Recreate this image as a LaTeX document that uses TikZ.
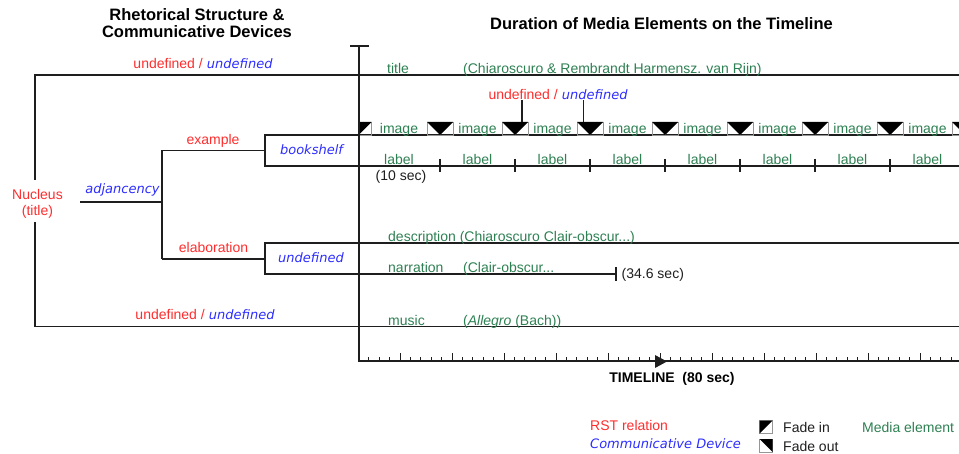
\documentclass[tikz,border=0pt]{standalone}
\usepackage{fontspec}
\setmainfont{Liberation Sans}
\newfontfamily\cdfont{DejaVu Sans}
\definecolor{rstred}{RGB}{255,45,45}
\definecolor{cdblue}{RGB}{45,45,255}
\definecolor{mediagreen}{RGB}{45,128,82}
\definecolor{ink}{RGB}{30,30,30}
\definecolor{fadegray}{RGB}{150,150,150}
\newcommand\cdtext[1]{{\cdfont\itshape\fontsize{13}{15}\selectfont\color{cdblue}#1}}
\newcommand\relpair{{\color{rstred}undefined\hspace{4pt}/\hspace{4pt}}\cdtext{undefined}}

\tikzset{
  pics/fadeout/.style={code={
    \draw[fadegray, line width=0.9pt] (0,0) rectangle (13,13);
    \fill[black] (0,0) -- (13,0) -- (13,13) -- cycle;}},
  pics/fadein/.style={code={
    \draw[fadegray, line width=0.9pt] (0,0) rectangle (13,13);
    \fill[black] (0,0) -- (13,0) -- (0,13) -- cycle;}},
}

\begin{document}
\begin{tikzpicture}[x=1pt,y=-1pt,
  line/.style={draw=ink, line width=1.1pt},
  axisline/.style={draw=ink, line width=2pt},
  tick/.style={draw=ink, line width=0.9pt},
  rst/.style={text=rstred, font=\fontsize{14}{16}\selectfont, inner sep=0pt},
  cd/.style={text=cdblue, font=\cdfont\itshape\fontsize{13}{15}\selectfont, inner sep=0pt},
  media/.style={text=mediagreen, font=\fontsize{14}{16}\selectfont, inner sep=0pt},
  note/.style={text=ink, font=\fontsize{14}{16}\selectfont, inner sep=0pt},
  heading/.style={text=black, font=\bfseries\fontsize{16.5}{18}\selectfont, inner sep=0pt, anchor=base},
]
\useasboundingbox (0,0) rectangle (959,454);
\clip (0,0) rectangle (959,454);

% headings
\node[heading] (rsthead1) at (197,21) {Rhetorical Structure \&};
\node[heading] (rsthead2) at (197,37.5) {Communicative Devices};
\node[heading] (durhead) at (661.5,29.5) {Duration of Media Elements on the Timeline};

% rhetorical tree
\node[rst, align=center] (nucleus) at (37.5,204) {Nucleus\\(title)};
\coordinate (nucTop) at (35,75);
\coordinate (nucBot) at (35,326.5);
\draw[line] (35,180) -- (nucTop) -- (959,75);
\draw[line] (35,222) -- (nucBot) -- (959,326.5);
\node[rst, anchor=base] (relTop) at (203,69) {\relpair};
\node[rst, anchor=base] (relBot) at (205,320) {\relpair};

\node[cd, anchor=base] (adj) at (122.5,194) {adjancency};
\coordinate (adjL) at (80,202);
\coordinate (adjR) at (162,202);
\draw[line] (adjL) -- (adjR);
\coordinate (brTop) at (162,150.5);
\coordinate (brBot) at (162,259);
\draw[line] (brTop) -- (brBot);

\node[rst, anchor=base] (exRel) at (213,144.5) {example};
\node[rst, anchor=base] (elabRel) at (213.5,253) {elaboration};

% bookshelf device box: its edges run on as the image and label tracks
\coordinate (bkTL) at (265,135);
\coordinate (bkBL) at (265,166);
\draw[line] (brTop) -- (265,150.5);
\draw[line] (959,135) -- (bkTL) -- (bkBL) -- (959,166);
\node[cd, anchor=base] (bookshelf) at (311.5,155) {bookshelf};

% undefined device box: description and narration tracks
\coordinate (udTL) at (265,243);
\coordinate (udBL) at (265,274);
\coordinate (narEnd) at (616,274);
\draw[line] (brBot) -- (265,259);
\draw[line] (959,243) -- (udTL) -- (udBL) -- (narEnd);
\draw[line] (616,267.5) -- (616,281);
\node[cd, anchor=base] (udDev) at (311,263) {undefined};

% media element labels
\node[media, anchor=base west] (mTitle) at (387,73.5) {title};
\node[media, anchor=base west] (mTitleSrc) at (463,73.5) {(Chiaroscuro \& Rembrandt Harmensz. van Rijn)};
\node[media, anchor=base west] (mDesc) at (388,242) {description (Chiaroscuro Clair-obscur...)};
\node[media, anchor=base west] (mNarr) at (388,273) {narration};
\node[media, anchor=base west] (mNarrSrc) at (463,273) {(Clair-obscur...};
\node[note, anchor=base west] (narrDur) at (621.5,278.5) {(34.6 sec)};
\node[media, anchor=base west] (mMusic) at (388,325.5) {music};
\node[media, anchor=base west] (mMusicSrc) at (463,325.5) {(\textit{Allegro} (Bach))};

% image track with fades
\pic at (358.5,122) {fadein};
\foreach \c in {440,515,...,965} {
  \pic at ({\c-13},122) {fadeout};
  \pic at (\c,122) {fadein};
}
\foreach \x [count=\i] in {399,477.5,552.5,627.5,702.5,777.5,852.5,927.5} {
  \node[media, anchor=base] (img\i) at (\x,134) {image};
  \node[media, anchor=base] (lab\i) at (\x,164.5) {label};
}
\foreach \c in {440,515,...,890}
  \draw[line] (\c,159) -- (\c,172.5);
\node[note, anchor=base] (labDur) at (401,181) {(10 sec)};

% relation attached to the third image
\node[rst, anchor=base] (relImg) at (558,100) {\relpair};
\coordinate (fadeIn3) at (522,122);
\coordinate (fadeOut3) at (583.5,122);
\draw[line] (relImg.south -| fadeIn3) -- (fadeIn3);
\draw[line] (relImg.south -| fadeOut3) -- (fadeOut3);

% time axis
\coordinate (axTop) at (358.5,46);
\coordinate (axOrigin) at (358.5,361.5);
\coordinate (axEnd) at (959,361.5);
\draw[axisline] (350,46) -- (369,46);
\draw[axisline] (axTop) -- (axOrigin) -- (axEnd);
\foreach \k in {1,...,57}
  \draw[tick] ({358.5+10.4*\k},361.5) -- ++(0,-4.5);
\foreach \k in {4,9,...,54}
  \draw[tick] ({358.5+10.4*\k},361.5) -- ++(0,-8.5);
\fill[ink] (655,355) -- (667,361.5) -- (655,368) -- cycle;
\node[text=black, font=\bfseries\fontsize{14}{16}\selectfont, inner sep=0pt, anchor=base] (tlLabel) at (672,383) {TIMELINE\ \ (80 sec)};

% legend
\node[rst, anchor=base west] (legRst) at (590,431) {RST relation};
\node[cd, anchor=base west] (legCd) at (590,448.5) {Communicative Device};
\pic at (759.5,420.5) {fadein};
\pic at (759.5,439) {fadeout};
\node[note, anchor=base west] (legIn) at (783,432) {Fade in};
\node[note, anchor=base west] (legOut) at (783,451) {Fade out};
\node[media, anchor=base west] (legMedia) at (862,432) {Media element};
\end{tikzpicture}
\end{document}
